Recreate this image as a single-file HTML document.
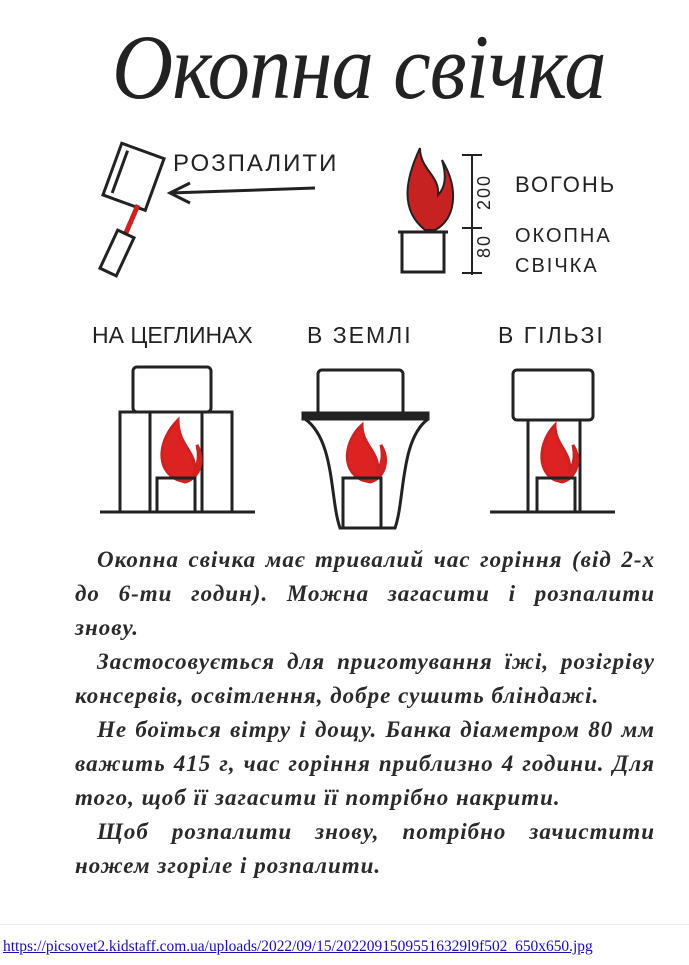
<!DOCTYPE html>
<html><head><meta charset="utf-8"><style>
html,body{margin:0;padding:0;background:#fff;}
body{width:689px;height:965px;position:relative;overflow:hidden;font-family:"Liberation Serif",serif;}
.title{position:absolute;left:112px;top:14px;font-size:92px;font-style:italic;color:#222;letter-spacing:-1px;white-space:nowrap;transform:scaleX(0.92);transform-origin:left top;}
.hand{font-family:"Liberation Sans",sans-serif;color:#222;position:absolute;white-space:nowrap;letter-spacing:2px;}
.txt{position:absolute;left:75px;top:543px;width:580px;font-style:italic;font-size:23px;line-height:34px;color:#2a2a2a;font-weight:bold;letter-spacing:1px;}
.l{white-space:nowrap;text-align:justify;text-align-last:justify;height:34px;}
.e{text-align-last:left;}
.i{padding-left:22px;}
.link{position:absolute;left:3px;top:938px;font-family:"Liberation Serif",serif;font-size:15.45px;color:#1a0dab;text-decoration:underline;white-space:nowrap;}
.rule{position:absolute;left:0;top:924px;width:689px;height:1px;background:#eee;}
svg{position:absolute;left:0;top:0;}
</style></head><body>
<div class="title">Окопна свічка</div>
<svg width="689" height="930" viewBox="0 0 689 930" fill="none" stroke="#222" stroke-width="3">
<g transform="rotate(20 135 180)">
<rect x="110" y="150" width="45" height="55"/>
<line x1="118" y1="155" x2="118" y2="200"/>
</g>
<path d="M138 205 L125 235" stroke="#c22" stroke-width="5"/>
<rect x="108" y="232" width="18" height="42" transform="rotate(25 117 253)"/>
<line x1="170" y1="193" x2="315" y2="188"/>
<path d="M190 183 L170 193 L190 203"/>
<path d="M425 230 C400 210 405 180 420 148 C420 170 440 175 438 195 C448 185 445 170 442 160 C460 190 455 220 435 230 Z" fill="#c62222" stroke="#222" stroke-width="2"/>
<rect x="402" y="232" width="42" height="40"/>
<line x1="398" y1="232" x2="448" y2="232"/>
<line x1="472" y1="155" x2="472" y2="275" stroke-width="2"/>
<line x1="462" y1="155" x2="482" y2="155" stroke-width="2"/>
<line x1="462" y1="228" x2="482" y2="228" stroke-width="2"/>
<line x1="462" y1="273" x2="482" y2="273" stroke-width="2"/>
<g>
<rect x="133" y="367" width="78" height="45" rx="4"/>
<rect x="120" y="412" width="30" height="100"/><rect x="150" y="412" width="52" height="100"/><rect x="202" y="412" width="30" height="100"/>
<path d="M178 480 C155 470 158 440 178 420 C178 445 195 450 195 470 C200 460 198 450 197 445 C205 460 200 478 185 482 Z" fill="#d22" stroke="#c22"/>
<rect x="157" y="478" width="38" height="34"/>
<line x1="100" y1="512" x2="255" y2="512"/>
</g>
<g>
<rect x="318" y="370" width="85" height="45" rx="4"/>
<rect x="303" y="413" width="125" height="6" fill="#222"/>
<path d="M305 419 C335 440 330 500 340 528 L395 528 C405 500 400 440 428 419"/>
<path d="M362 480 C340 470 345 440 362 425 C362 445 378 450 378 470 C384 460 382 450 381 445 C390 460 385 478 370 482 Z" fill="#d22" stroke="#c22"/>
<rect x="343" y="478" width="38" height="50"/>
</g>
<g>
<rect x="513" y="370" width="80" height="50" rx="4"/>
<rect x="528" y="420" width="52" height="92"/>
<path d="M555 480 C535 470 540 440 555 425 C555 445 570 450 570 470 C576 460 574 450 573 445 C582 460 577 478 562 482 Z" fill="#d22" stroke="#c22"/>
<rect x="537" y="478" width="38" height="34"/>
<line x1="490" y1="512" x2="615" y2="512"/>
</g>
</svg>
<div class="hand" style="left:173px;top:150px;font-size:24px;">РОЗПАЛИТИ</div>
<div class="hand" style="left:515px;top:172px;font-size:22px;">ВОГОНЬ</div>
<div class="hand" style="left:515px;top:225px;font-size:20px;">ОКОПНА</div>
<div class="hand" style="left:515px;top:255px;font-size:20px;">СВІЧКА</div>
<div class="hand" style="left:474px;font-size:18px;transform:rotate(-90deg);transform-origin:left top;top:210px;">200</div>
<div class="hand" style="left:474px;top:258px;font-size:18px;transform:rotate(-90deg);transform-origin:left top;">80</div>
<div class="hand" style="left:92px;top:322px;font-size:23px;letter-spacing:0;">НА ЦЕГЛИНАХ</div>
<div class="hand" style="left:307px;top:322px;font-size:23px;">В ЗЕМЛІ</div>
<div class="hand" style="left:498px;top:322px;font-size:23px;">В ГІЛЬЗІ</div>
<div class="txt">
<div class="l i">Окопна свічка має тривалий час горіння (від 2-х</div>
<div class="l">до 6-ти годин). Можна загасити і розпалити</div>
<div class="l e">знову.</div>
<div class="l i">Застосовується для приготування їжі, розігріву</div>
<div class="l e">консервів, освітлення, добре сушить бліндажі.</div>
<div class="l i">Не боїться вітру і дощу. Банка діаметром 80 мм</div>
<div class="l">важить 415 г, час горіння приблизно 4 години. Для</div>
<div class="l e">того, щоб її загасити її потрібно накрити.</div>
<div class="l i">Щоб розпалити знову, потрібно зачистити</div>
<div class="l e">ножем згоріле і розпалити.</div>
</div>
<div class="rule"></div>
<div class="link">https://picsovet2.kidstaff.com.ua/uploads/2022/09/15/20220915095516329l9f502_650x650.jpg</div>
</body></html>
